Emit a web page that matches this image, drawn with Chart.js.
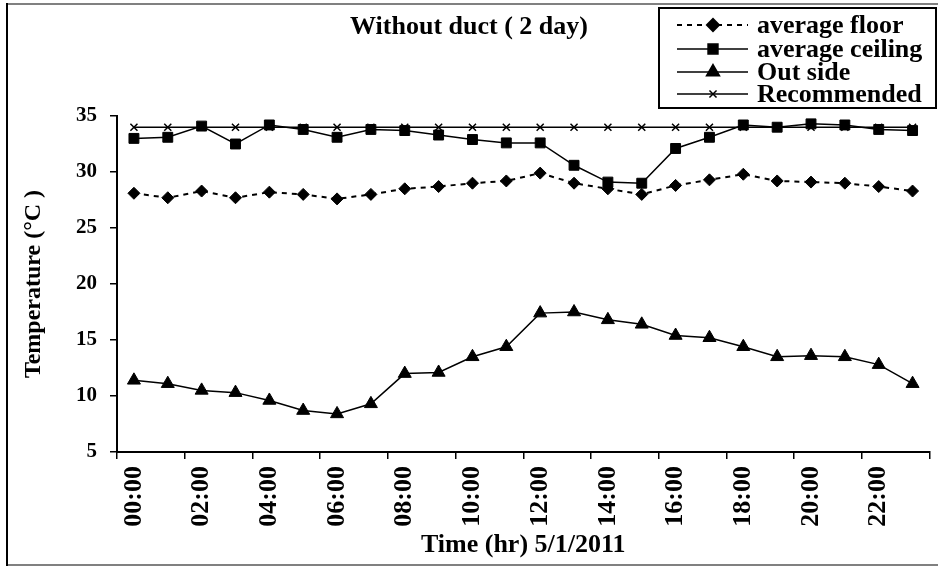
<!DOCTYPE html>
<html>
<head>
<meta charset="utf-8">
<script src="https://cdn.jsdelivr.net/npm/chart.js"></script>
<style>
  html, body { margin: 0; padding: 0; background: #fff; }
  #wrap { width: 938px; height: 566px; }
</style>
</head>
<body>
<div id="wrap"><canvas id="tempChart" width="938" height="566"></canvas></div>
<script>
// Hourly readings, 5/1/2011, without duct
const hours = ['00:00', '01:00', '02:00', '03:00', '04:00', '05:00', '06:00', '07:00',
               '08:00', '09:00', '10:00', '11:00', '12:00', '13:00', '14:00', '15:00',
               '16:00', '17:00', '18:00', '19:00', '20:00', '21:00', '22:00', '23:00'];
const avgFloor = [28.1, 27.7, 28.3, 27.7, 28.2, 28.0, 27.6, 28.0, 28.5, 28.7, 29.0, 29.2,
                  29.9, 29.0, 28.5, 28.0, 28.8, 29.3, 29.8, 29.2, 29.1, 29.0, 28.7, 28.3];
const avgCeiling = [33.0, 33.1, 34.1, 32.5, 34.2, 33.8, 33.1, 33.8, 33.7, 33.3, 32.9, 32.6,
                    32.6, 30.6, 29.1, 29.0, 32.1, 33.1, 34.2, 34.0, 34.3, 34.2, 33.8, 33.7];
const outSide = [11.4, 11.1, 10.5, 10.3, 9.6, 8.7, 8.4, 9.3, 12.0, 12.1, 13.5, 14.4,
                 17.4, 17.5, 16.8, 16.4, 15.4, 15.2, 14.4, 13.5, 13.6, 13.5, 12.8, 11.1];
const recommended = [34, 34, 34, 34, 34, 34, 34, 34, 34, 34, 34, 34,
                     34, 34, 34, 34, 34, 34, 34, 34, 34, 34, 34, 34];
const seriesNames = ['average floor', 'average ceiling', 'Out side', 'Recommended'];
const yMin = 5, yMax = 35, yStep = 5;

const chartTitle = 'Without duct ( 2 day)';
const xTitle = 'Time (hr) 5/1/2011';
const yTitle = 'Temperature (°C )';

const serif = "'Liberation Serif', 'Times New Roman', serif";

// outer frame + boxed legend (line segment with marker, like the original)
const frameAndLegend = {
    id: 'frameAndLegend',
    afterDraw(chart) {
        const ctx = chart.ctx;
        ctx.save();
        ctx.lineWidth = 2;
        ctx.strokeStyle = '#808080';
        ctx.beginPath();
        ctx.moveTo(6, 4); ctx.lineTo(938, 4);
        ctx.moveTo(6, 565); ctx.lineTo(938, 565);
        ctx.stroke();
        ctx.strokeStyle = '#000';
        ctx.beginPath();
        ctx.moveTo(7, 3); ctx.lineTo(7, 566);
        ctx.stroke();

        ctx.fillStyle = '#fff';
        ctx.fillRect(659, 8, 277, 100);
        ctx.strokeRect(659, 8, 277, 100);

        const rows = [25, 49, 72, 94];
        ctx.font = 'bold 26px ' + serif;
        ctx.textBaseline = 'middle';
        chart.data.datasets.forEach((ds, i) => {
            const y = rows[i];
            ctx.strokeStyle = '#000';
            ctx.fillStyle = '#000';
            ctx.lineWidth = ds.borderWidth;
            ctx.setLineDash(ds.borderDash || []);
            ctx.beginPath();
            ctx.moveTo(677, y); ctx.lineTo(748, y);
            ctx.stroke();
            ctx.setLineDash([]);
            Chart.helpers.drawPoint(ctx, {
                pointStyle: ds.pointStyle,
                radius: ds.pointRadius,
                borderWidth: ds.pointBorderWidth,
                rotation: 0
            }, 713, y);
            ctx.fillStyle = '#000';
            ctx.fillText(ds.label, 757, y + 1);
        });
        ctx.restore();
    }
};

function series(label, data, extra) {
    return Object.assign({
        label: label,
        data: data,
        borderColor: '#000',
        backgroundColor: '#000',
        pointBackgroundColor: '#000',
        pointBorderColor: '#000',
        borderWidth: 1.5,
        pointBorderWidth: 1,
        pointHoverRadius: 0,
        tension: 0,
        fill: false
    }, extra);
}

new Chart(document.getElementById('tempChart'), {
    type: 'line',
    data: {
        labels: hours,
        datasets: [
            series(seriesNames[0], avgFloor, { borderWidth: 2, borderDash: [5, 5], pointStyle: 'rectRot', pointRadius: 6 }),
            series(seriesNames[1], avgCeiling, { pointStyle: 'rect', pointRadius: 7 }),
            series(seriesNames[2], outSide, { pointStyle: 'triangle', pointRadius: 7.5 }),
            series(seriesNames[3], recommended, { pointStyle: 'crossRot', pointRadius: 5, pointBorderWidth: 1.5 })
        ]
    },
    options: {
        responsive: false,
        animation: false,
        events: [],
        layout: { padding: { left: 8, right: 8, top: 0, bottom: 0 } },
        plugins: {
            legend: { display: false },
            tooltip: { enabled: false },
            title: {
                display: true,
                text: chartTitle,
                color: '#000',
                font: { family: serif, size: 26, weight: 'bold', lineHeight: 1.2 },
                padding: { top: 12, bottom: 72.8 }
            }
        },
        scales: {
            x: {
                offset: true,
                grid: {
                    offset: true,
                    drawOnChartArea: false,
                    tickLength: 7,
                    lineWidth: 1.5,
                    color: (c) => (c.index === undefined || c.index % 2 === 0) ? '#000' : 'rgba(0,0,0,0)'
                },
                border: { color: '#000', width: 2 },
                ticks: {
                    autoSkip: false,
                    minRotation: 90,
                    maxRotation: 90,
                    padding: 7,
                    color: '#000',
                    font: { family: serif, size: 26, weight: 'bold' },
                    callback: function(value, index) {
                        return index % 2 === 0 ? this.getLabelForValue(value) : '';
                    }
                },
                title: {
                    display: true,
                    text: xTitle,
                    color: '#000',
                    font: { family: serif, size: 26, weight: 'bold', lineHeight: 1.2 },
                    padding: { top: 0, bottom: 5 }
                },
                afterFit: function(scale) {
                    scale.height = 114;
                    scale.paddingLeft = 0;
                    scale.paddingRight = 0;
                }
            },
            y: {
                min: yMin,
                max: yMax,
                grid: { drawOnChartArea: false, tickLength: 7, lineWidth: 1.5, color: '#000' },
                border: { color: '#000', width: 2 },
                ticks: {
                    stepSize: yStep,
                    padding: 13,
                    color: '#000',
                    font: { family: serif, size: 21, weight: 'bold' }
                },
                title: {
                    display: true,
                    text: yTitle,
                    color: '#000',
                    font: { family: serif, size: 24, weight: 'bold', lineHeight: 1.2 },
                    padding: { top: 11, bottom: 0 }
                },
                afterFit: function(scale) {
                    scale.width = 109;
                }
            }
        }
    },
    plugins: [frameAndLegend]
});
</script>
</body>
</html>
